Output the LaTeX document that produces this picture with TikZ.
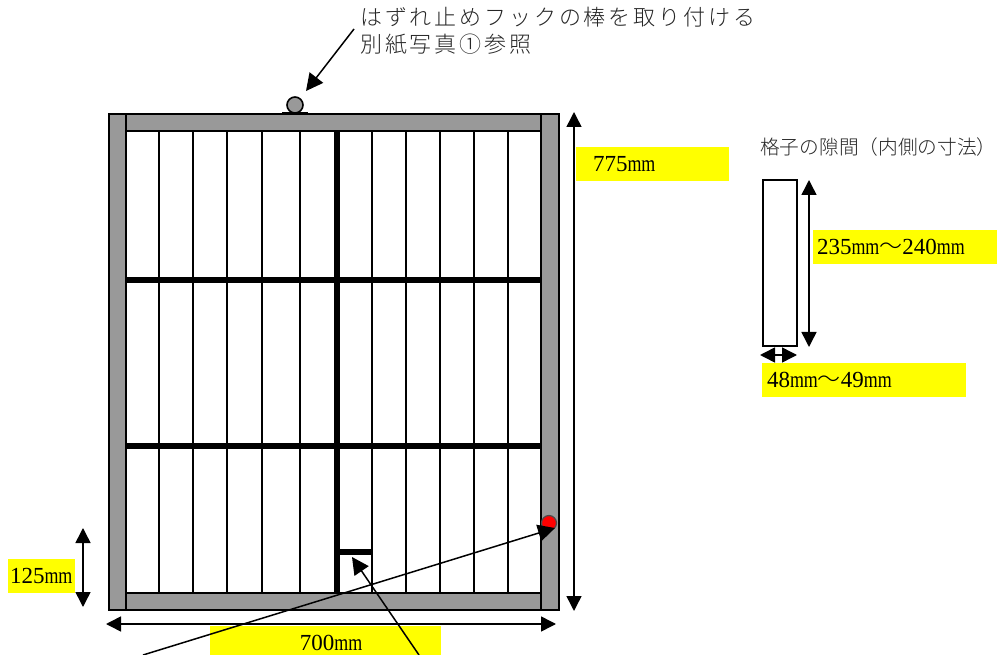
\documentclass[tikz,border=0pt]{standalone}
\usepackage{xcolor}
\usepackage{fontspec}
\usetikzlibrary{arrows.meta}
\setmainfont{Liberation Serif}
\newfontfamily\cjkbig[LetterSpace=13]{Noto Sans CJK JP Light}
\newfontfamily\cjkfont{Noto Sans CJK JP Light}
\newfontfamily\narrowfont[FakeStretch=0.78]{Liberation Serif}
\newcommand{\unitmm}{{\narrowfont mm}}
\newcommand{\waveto}{{\fontsize{23}{24}\cjkfont ～}}
\definecolor{frameGray}{RGB}{153, 153, 153}
\definecolor{markYellow}{RGB}{255, 255, 0}
\definecolor{markRed}{RGB}{255, 0, 0}
\tikzset{
  dimline/.style={{Triangle[width=15pt,length=15pt]}-{Triangle[width=15pt,length=15pt]}, line width=1.5pt},
  pointer/.style={-{Triangle[width=17pt,length=17pt]}, line width=1.5pt},
  hilite/.style={fill=markYellow, anchor=north west, inner ysep=0pt, outer sep=0pt, minimum height=34pt, align=left, font=\fontsize{23}{26}\selectfont},
  slat/.style={line width=2.6pt},
  bar/.style={line width=6pt},
  rail/.style={draw=black, fill=frameGray, line width=2pt, inner sep=0pt, outer sep=0pt},
  memo/.style={anchor=west, inner sep=0pt, text=black!85},
}
\begin{document}
\begin{tikzpicture}[x=1pt, y=-1pt]
  \useasboundingbox (0,0) rectangle (997,655);
  % slats
  \foreach \slatx in {159,193,227,262,300,372,406,440,474,508}
    \draw[slat] (\slatx,131) -- (\slatx,593);
  \draw[bar] (337,131) -- (337,593);
  \draw[bar] (125,280) -- (541,280);
  \draw[bar] (125,446) -- (541,446);
  \draw[bar] (339,552) -- (372,552);
  % frame
  \node[rail, minimum width=450pt, minimum height=17pt, anchor=north west] (toprail) at (108.5,114.5) {};
  \node[rail, minimum width=450pt, minimum height=17pt, anchor=south west] (bottomrail) at (108.5,609.5) {};
  \node[rail, minimum width=17pt, minimum height=495pt, anchor=north west] (leftstile) at (108.5,114.5) {};
  \node[rail, minimum width=18pt, minimum height=495pt, anchor=north east] (rightstile) at (558.5,114.5) {};
  % hook and latch
  \node[circle, draw, fill=frameGray, line width=1.6pt, minimum size=16pt, inner sep=0pt] (hook) at (295,105) {};
  \draw[line width=1pt] (282,113) -- (308,113);
  \draw[line width=1pt] (540,510) -- (540,536);
  \draw[line width=1pt] (559,510) -- (559,536);
  \node[circle, draw=black!70, fill=markRed, line width=1.2pt, minimum size=15pt, inner sep=0pt] (latch) at (549,523) {};
  % labels
  \node[memo, font=\fontsize{22}{24}\cjkbig] (hooknote) at (360,17) {はずれ止めフックの棒を取り付ける};
  \node[memo, font=\fontsize{22}{24}\cjkbig] (hookref) at (360,44) {別紙写真①参照};
  \node[memo, font=\fontsize{19.7}{22}\cjkfont] (gaptitle) at (760,147) {格子の隙間（内側の寸法）};
  \node[hilite, text width=119pt, inner xsep=17pt] (height) at (576,147) {775\unitmm};
  \node[hilite, minimum width=231pt, inner xsep=0pt, align=center] (width) at (210,626) {\hspace*{11pt}700\unitmm};
  \node[hilite, text width=63pt, inner xsep=2pt] (offset) at (8,559) {125\unitmm};
  \node[hilite, text width=176pt, inner xsep=4pt] (gaphigh) at (813,230) {235\unitmm\waveto 240\unitmm};
  \node[hilite, text width=194pt, inner xsep=5pt] (gapwide) at (762,363) {48\unitmm\waveto 49\unitmm};
  % gap detail
  \node[draw, line width=2pt, minimum width=34pt, minimum height=166pt, inner sep=0pt, outer sep=0pt, anchor=north west] (gapbox) at (762.5,180.5) {};
  % dimension ends
  \coordinate (htop) at (574,112);
  \coordinate (hbot) at (574,611);
  \coordinate (wleft) at (106,624);
  \coordinate (wright) at (556,624);
  \coordinate (otop) at (83,528);
  \coordinate (obot) at (83,607);
  \coordinate (gtop) at (809,180);
  \coordinate (gbot) at (809,347);
  \coordinate (sleft) at (760,355);
  \coordinate (sright) at (797,355);
  \draw[dimline] (htop) -- (hbot);
  \draw[dimline] (wleft) -- (wright);
  \draw[dimline] (otop) -- (obot);
  \draw[dimline] (gtop) -- (gbot);
  \draw[dimline] (sleft) -- (sright);
  % pointers
  \coordinate (hookfrom) at (354,29);
  \coordinate (hookto) at (306,91);
  \coordinate (latchfrom) at (143,655);
  \coordinate (latchto) at (555,528);
  \coordinate (barfrom) at (419,655);
  \coordinate (barto) at (352,557);
  \draw[pointer] (hookfrom) -- (hookto);
  \draw[pointer] (latchfrom) -- (latchto);
  \draw[pointer] (barfrom) -- (barto);
\end{tikzpicture}
\end{document}
